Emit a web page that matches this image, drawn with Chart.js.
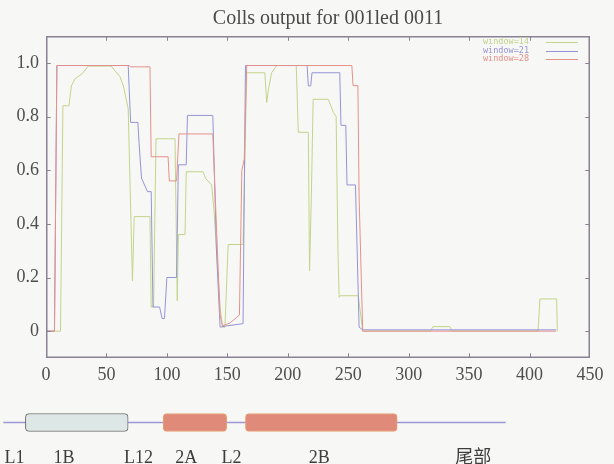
<!DOCTYPE html>
<html>
<head>
<meta charset="utf-8">
<script src="https://cdn.jsdelivr.net/npm/chart.js@4/dist/chart.umd.min.js"></script>
<style>
  html, body { margin: 0; padding: 0; background: #f7f7f5; overflow: hidden; }
  #wrap { position: relative; width: 614px; height: 464px; }
  #main { position: absolute; left: 0; top: 0; width: 614px; height: 395px; }
  #domains { position: absolute; left: 0; top: 395px; width: 614px; height: 69px; }
</style>
</head>
<body>
<div id="wrap">
  <canvas id="main" width="614" height="395"></canvas>
  <canvas id="domains" width="614" height="69"></canvas>
</div>
<script>
// coil probability per residue as [residue, score]
const window14 = [
  [0, 0], [12, 0], [14, 0.84], [19, 0.84], [21, 0.914], [24, 0.94], [30, 0.96], [35, 0.988],
  [54, 0.988], [57, 0.97], [61, 0.95], [64, 0.914], [68, 0.828], [71.5, 0.187], [73, 0.427],
  [86, 0.427], [87, 0.09], [89, 0.09], [91, 0.717], [106.7, 0.717], [108.6, 0.113], [109.5, 0.36],
  [115, 0.36], [116, 0.594], [130, 0.594], [132, 0.569], [137, 0.545], [139, 0.45], [144, 0.09],
  [146, 0.015], [148, 0.015], [150.7, 0.323], [163, 0.323], [166, 0.963], [181, 0.963],
  [182.6, 0.852], [184, 0.9], [186.6, 0.963], [190.8, 0.99], [207, 0.99], [208.7, 0.741],
  [217, 0.741], [218, 0.224], [219.5, 0.5], [221, 0.864], [233.5, 0.864], [237.7, 0.815],
  [240, 0.8], [241.5, 0.3], [242.5, 0.126], [243.5, 0.132], [258.3, 0.132], [262, 0],
  [318, 0], [320, 0.017], [334, 0.017], [336, 0], [407, 0], [408.6, 0.12], [422.4, 0.12], [423, 0]
];
const window21 = [
  [0, 0], [7, 0], [9, 0.99], [68, 0.99], [70, 0.778], [76, 0.778], [77, 0.70], [79, 0.57],
  [84, 0.52], [87, 0.52], [88.5, 0.09], [94, 0.09], [96, 0.047], [98, 0.047], [100, 0.2],
  [108, 0.2], [109.5, 0.62], [116, 0.62], [117, 0.804], [138, 0.804], [141, 0.3], [144, 0.015],
  [150, 0.02], [163, 0.028], [165, 0.99], [216, 0.99], [217, 0.914], [219, 0.914], [220, 0.963],
  [243, 0.963], [244, 0.767], [248, 0.767], [249, 0.545], [256, 0.545], [259, 0.015], [262, 0.005],
  [422, 0.005]
];
const window28 = [
  [0, 0], [7, 0], [9, 0.99], [69, 0.99], [70, 0.985], [86, 0.985], [87, 0.65], [101, 0.65],
  [102, 0.56], [108, 0.56], [110, 0.735], [138, 0.735], [140, 0.5], [144, 0.06], [146, 0.02],
  [152, 0.03], [160, 0.06], [162, 0.6], [164, 0.64], [166, 0.99], [253, 0.99], [254, 0.915],
  [258, 0.915], [259, 0.5], [262, 0], [422, 0]
];
const seriesNames = ['window=14', 'window=21', 'window=28'];
const seriesColors = ['#c2d48a', '#9494d8', '#e4918a'];
const xTicks = [0, 50, 100, 150, 200, 250, 300, 350, 400, 450];
const yTicks = [0, 0.2, 0.4, 0.6, 0.8, 1.0];
const chartTitle = 'Colls output for 001led 0011';

// domain sketch under the plot
const backboneSpan = [-35, 380];
const domainNames = ['1B', '2A', '2B'];
const domainStart = [-17, 97, 165];
const domainEnd = [68, 149.5, 290.5];
const domainFill = ['#dde7e6', '#e08a7a', '#e08a7a'];
const domainEdge = ['#6e6e6e', '#e8a070', '#e8a070'];
const labelNames = ['L1', '1B', 'L12', '2A', 'L2', '2B', '尾部'];
const labelPos = [-26, 15, 76.5, 116, 153.5, 226, 353.5];

const serif = '"Liberation Serif", "DejaVu Serif", "Noto Sans CJK SC", serif';
const frameColor = '#8a8294';

const framePlugin = {
  id: 'frame',
  afterDraw(chart) {
    const ctx = chart.ctx;
    const a = chart.chartArea;
    const xs = chart.scales.x, ys = chart.scales.y;
    const l = a.left + 0.75, r = a.right - 0.75;
    const t = a.top + 0.75, b = a.bottom - 0.75;
    ctx.save();
    ctx.strokeStyle = frameColor;
    ctx.lineWidth = 1.5;
    ctx.strokeRect(l, t, r - l, b - t);
    ctx.lineWidth = 1;
    ctx.beginPath();
    xTicks.forEach(v => {
      const px = Math.round(Math.min(r, xs.getPixelForValue(v))) + 0.5;
      ctx.moveTo(px, b); ctx.lineTo(px, b - 4);
      ctx.moveTo(px, t); ctx.lineTo(px, t + 4);
    });
    yTicks.forEach(v => {
      const py = Math.round(ys.getPixelForValue(v)) + 0.5;
      ctx.moveTo(l, py); ctx.lineTo(l + 4, py);
      ctx.moveTo(r, py); ctx.lineTo(r - 4, py);
    });
    ctx.stroke();

    // title
    ctx.fillStyle = '#4a4a4a';
    ctx.font = '20px ' + serif;
    ctx.textAlign = 'center';
    ctx.textBaseline = 'middle';
    ctx.fillText(chartTitle, 328, 19);

    // legend: text then a line sample
    ctx.font = '8.5px "DejaVu Sans Mono", monospace';
    ctx.textAlign = 'right';
    seriesNames.forEach((name, i) => {
      const y = 42 + i * 8.5;
      ctx.fillStyle = seriesColors[i];
      ctx.fillText(name, 529, y);
      ctx.fillRect(546, Math.round(y), 32, 1);
    });
    ctx.restore();
  }
};

const toPoints = arr => arr.map(p => ({ x: p[0], y: p[1] }));

new Chart(document.getElementById('main'), {
  type: 'line',
  data: {
    datasets: [window14, window21, window28].map((s, i) => ({
      label: seriesNames[i],
      data: toPoints(s),
      borderColor: seriesColors[i],
      borderWidth: 1,
      pointRadius: 0,
      tension: 0,
      order: 3 - i
    }))
  },
  options: {
    responsive: false,
    animation: false,
    layout: { padding: { left: 0, right: 24, top: 36, bottom: 0 } },
    plugins: { legend: { display: false }, tooltip: { enabled: false } },
    scales: {
      x: {
        type: 'linear', min: 0, max: 450,
        afterBuildTicks: ax => { ax.ticks = xTicks.map(v => ({ value: v })); },
        afterFit: ax => { ax.height = 37; },
        grid: { display: false, drawTicks: false },
        border: { display: false },
        ticks: { autoSkip: false, maxRotation: 0, padding: 6, color: '#4e4e4e', font: { family: serif, size: 18 } }
      },
      y: {
        type: 'linear', min: -0.1, max: 1.1,
        afterBuildTicks: ax => { ax.ticks = yTicks.map(v => ({ value: v })); },
        afterFit: ax => { ax.width = 46; },
        grid: { display: false, drawTicks: false },
        border: { display: false },
        ticks: {
          padding: 7, color: '#4e4e4e', font: { family: serif, size: 18 },
          callback: v => (v === 0 ? '0' : v.toFixed(1))
        }
      }
    }
  },
  plugins: [framePlugin]
});

new Chart(document.getElementById('domains'), {
  type: 'bar',
  data: {
    labels: ['protein'],
    datasets: [
      { label: 'backbone', data: [backboneSpan], backgroundColor: '#9d99d8', borderWidth: 0, barThickness: 1, grouped: false, order: 2 }
    ].concat(domainNames.map((n, i) => ({
      label: n,
      data: [[domainStart[i], domainEnd[i]]],
      backgroundColor: domainFill[i],
      borderColor: domainEdge[i],
      borderWidth: 1,
      borderRadius: 4,
      borderSkipped: false,
      barThickness: 18,
      grouped: false,
      order: 1
    })))
  },
  options: {
    indexAxis: 'y',
    responsive: false,
    animation: false,
    layout: { padding: { left: 0, right: 24, top: 5, bottom: 0 } },
    plugins: { legend: { display: false }, tooltip: { enabled: false } },
    scales: {
      x: {
        type: 'linear', min: -38, max: 450,
        afterBuildTicks: ax => { ax.ticks = labelPos.map(v => ({ value: v })); },
        afterFit: ax => { ax.height = 19; },
        grid: { display: false, drawTicks: false },
        border: { display: false },
        ticks: {
          autoSkip: false, maxRotation: 0, padding: 2, color: '#3e3e3e',
          font: { family: serif, size: 18 },
          callback: (v, i) => labelNames[i]
        }
      },
      y: { display: false }
    }
  }
});
</script>
</body>
</html>
